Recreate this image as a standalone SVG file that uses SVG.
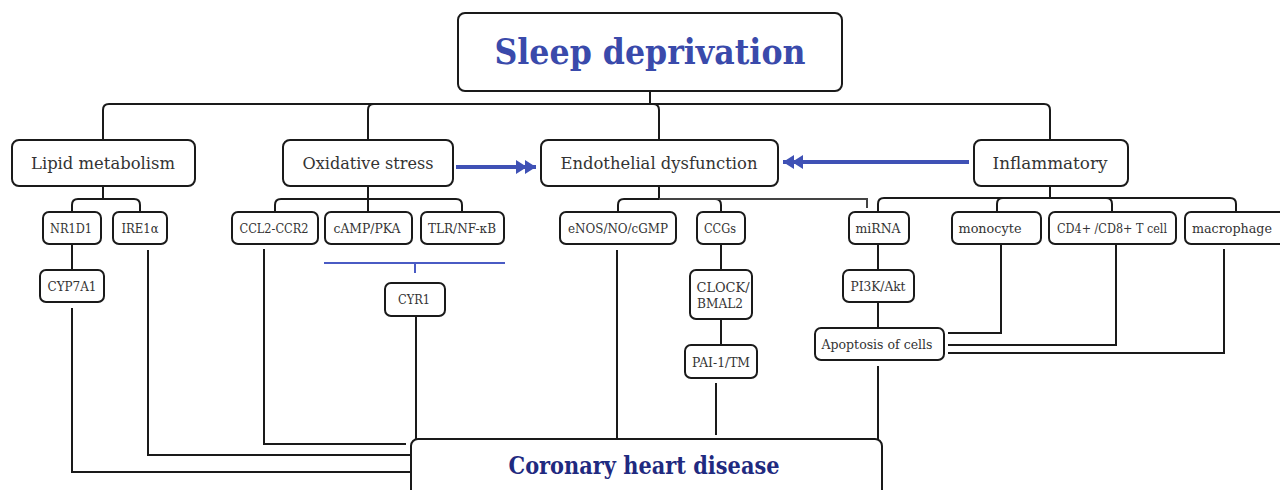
<svg xmlns="http://www.w3.org/2000/svg" width="1280" height="490" viewBox="0 0 1280 490">
<style>
.box{fill:#fff;stroke:#1a1a1a;stroke-width:2}
.ln{fill:none;stroke:#1a1a1a;stroke-width:2}
.t{font-family:"DejaVu Serif","Liberation Serif",serif;fill:#333;text-anchor:middle}
.c{font-size:17.5px}
.s{font-size:13.5px}
.title{font-family:"DejaVu Serif","Liberation Serif",serif;font-weight:bold;text-anchor:middle}
.blue{fill:none;stroke:#3f51b5;stroke-width:4}
</style>
<defs>
<marker id="dbl" viewBox="0 0 20 14" refX="20" refY="7" markerWidth="20" markerHeight="14" markerUnits="userSpaceOnUse" orient="auto">
<path d="M0,0 L11,7 L0,14 Z M9,0 L20,7 L9,14 Z" fill="#3f51b5"/>
</marker>
</defs>
<g id="connectors">
<path class="ln" d="M650,91 V104 H109 Q103,104 103,110 V140"/>
<path class="ln" d="M650,104 H374 Q368,104 368,110 V140"/>
<path class="ln" d="M650,104 H653 Q659,104 659,110 V140"/>
<path class="ln" d="M650,104 H1044 Q1050,104 1050,110 V140"/>
<path class="ln" d="M103,186 V199 H78 Q72,199 72,205 V212"/>
<path class="ln" d="M103,199 H134 Q140,199 140,205 V212"/>
<path class="ln" d="M72,244 V270"/>
<path class="ln" d="M368,186 V199 H281 Q275,199 275,205 V212"/>
<path class="ln" d="M368,199 V212"/>
<path class="ln" d="M368,199 H456 Q462,199 462,205 V212"/>
<path class="ln" d="M659,186 V199 H624 Q618,199 618,205 V212"/>
<path class="ln" d="M659,199 H715 Q721,199 721,205 V212"/>
<path d="M659,199 H867 V208" fill="none" stroke="#444" stroke-width="2"/>
<path class="ln" d="M721,244 V270"/>
<path class="ln" d="M721,319 V345"/>
<path class="ln" d="M1050,186 V198 H884 Q878,198 878,204 V212"/>
<path class="ln" d="M1050,198 H1003 Q997,198 997,204 V212"/>
<path class="ln" d="M1050,198 H1106 Q1112,198 1112,204 V212"/>
<path class="ln" d="M1050,198 H1230 Q1236,198 1236,204 V212"/>
<path class="ln" d="M878,244 V270"/>
<path class="ln" d="M878,302 V328"/>
<path class="ln" d="M1001,244 V333 H948"/>
<path class="ln" d="M1116,244 V345 H948"/>
<path class="ln" d="M1224,249 V353 H948"/>
<path class="ln" d="M72,308 V472 H411"/>
<path class="ln" d="M148,250 V455 H411"/>
<path class="ln" d="M264,249 V444 H406"/>
<path class="ln" d="M416,316 V439"/>
<path class="ln" d="M617,250 V439"/>
<path class="ln" d="M716,383 V435"/>
<path class="ln" d="M878,366 V439"/>
<path d="M324,263 H505 M415,263 V273" fill="none" stroke="#4a5bc4" stroke-width="2"/>
<path class="blue" d="M456,167 H536" marker-end="url(#dbl)"/>
<path class="blue" d="M969,162 H783" marker-end="url(#dbl)"/>
</g>
<g id="sleep">
<rect class="box" x="458" y="13" width="384" height="78" rx="7"/>
<text class="title" x="650" y="64" font-size="36" fill="#3a4aab" textLength="311" lengthAdjust="spacingAndGlyphs">Sleep deprivation</text>
</g>
<g id="lipid">
<rect class="box" x="12" y="140" width="183" height="46" rx="7"/>
<text class="t c" x="103" y="169" textLength="144" lengthAdjust="spacingAndGlyphs">Lipid metabolism</text>
</g>
<g id="oxidative">
<rect class="box" x="283" y="140" width="170" height="46" rx="7"/>
<text class="t c" x="368" y="169" textLength="131" lengthAdjust="spacingAndGlyphs">Oxidative stress</text>
</g>
<g id="endothelial">
<rect class="box" x="541" y="140" width="237" height="46" rx="7"/>
<text class="t c" x="659" y="169" textLength="197" lengthAdjust="spacingAndGlyphs">Endothelial dysfunction</text>
</g>
<g id="inflammatory">
<rect class="box" x="974" y="140" width="154" height="46" rx="7"/>
<text class="t c" x="1050" y="169" textLength="115" lengthAdjust="spacingAndGlyphs">Inflammatory</text>
</g>
<g id="nr1d1">
<rect class="box" x="43" y="212" width="58" height="32" rx="6"/>
<text class="t s" x="71" y="233" textLength="42" lengthAdjust="spacingAndGlyphs">NR1D1</text>
</g>
<g id="ire1a">
<rect class="box" x="113" y="212" width="54" height="32" rx="6"/>
<text class="t s" x="140" y="233" textLength="37" lengthAdjust="spacingAndGlyphs">IRE1α</text>
</g>
<g id="ccl2">
<rect class="box" x="232" y="212" width="86" height="32" rx="6"/>
<text class="t s" x="274" y="233" textLength="69" lengthAdjust="spacingAndGlyphs">CCL2-CCR2</text>
</g>
<g id="camp">
<rect class="box" x="325" y="212" width="87" height="32" rx="6"/>
<text class="t s" x="367" y="233" textLength="67" lengthAdjust="spacingAndGlyphs">cAMP/PKA</text>
</g>
<g id="tlr">
<rect class="box" x="421" y="212" width="83" height="32" rx="6"/>
<text class="t s" x="462" y="233" textLength="68" lengthAdjust="spacingAndGlyphs">TLR/NF-κB</text>
</g>
<g id="enos">
<rect class="box" x="560" y="212" width="116" height="32" rx="6"/>
<text class="t s" x="618" y="233" textLength="100" lengthAdjust="spacingAndGlyphs">eNOS/NO/cGMP</text>
</g>
<g id="ccgs">
<rect class="box" x="697" y="212" width="48" height="32" rx="6"/>
<text class="t s" x="720" y="233" textLength="32" lengthAdjust="spacingAndGlyphs">CCGs</text>
</g>
<g id="mirna">
<rect class="box" x="849" y="212" width="60" height="32" rx="6"/>
<text class="t s" x="878" y="233" textLength="45" lengthAdjust="spacingAndGlyphs">miRNA</text>
</g>
<g id="monocyte">
<rect class="box" x="952" y="212" width="89" height="32" rx="6"/>
<text class="t s" x="990" y="233" textLength="63" lengthAdjust="spacingAndGlyphs">monocyte</text>
</g>
<g id="tcell">
<rect class="box" x="1049" y="212" width="127" height="32" rx="6"/>
<text class="t s" x="1112" y="233" textLength="110" lengthAdjust="spacingAndGlyphs">CD4+ /CD8+ T cell</text>
</g>
<g id="macrophage">
<rect class="box" x="1185" y="212" width="100" height="32" rx="6"/>
<text class="t s" x="1232" y="233" textLength="80" lengthAdjust="spacingAndGlyphs">macrophage</text>
</g>
<g id="cyp7a1">
<rect class="box" x="40" y="270" width="64" height="32" rx="6"/>
<text class="t s" x="72" y="291" textLength="49" lengthAdjust="spacingAndGlyphs">CYP7A1</text>
</g>
<g id="cyr1">
<rect class="box" x="385" y="283" width="60" height="33" rx="6"/>
<text class="t s" x="414" y="304" textLength="32" lengthAdjust="spacingAndGlyphs">CYR1</text>
</g>
<g id="clock">
<rect class="box" x="690" y="270" width="62" height="49" rx="6"/>
<text class="t s" x="723" y="292" textLength="53" lengthAdjust="spacingAndGlyphs">CLOCK/</text>
<text class="t s" x="720" y="308" textLength="46" lengthAdjust="spacingAndGlyphs">BMAL2</text>
</g>
<g id="pai">
<rect class="box" x="685" y="345" width="72" height="33" rx="6"/>
<text class="t s" x="721" y="367" textLength="58" lengthAdjust="spacingAndGlyphs">PAI-1/TM</text>
</g>
<g id="pi3k">
<rect class="box" x="843" y="270" width="71" height="32" rx="6"/>
<text class="t s" x="878" y="291" textLength="55" lengthAdjust="spacingAndGlyphs">PI3K/Akt</text>
</g>
<g id="apoptosis">
<rect class="box" x="815" y="328" width="129" height="32" rx="6"/>
<text class="t s" x="877" y="349" textLength="111" lengthAdjust="spacingAndGlyphs">Apoptosis of cells</text>
</g>
<g id="chd">
<rect class="box" x="411" y="439" width="471" height="62" rx="7"/>
<text class="title" x="644" y="474" font-size="24" fill="#1f2a80" textLength="271" lengthAdjust="spacingAndGlyphs">Coronary heart disease</text>
</g>
</svg>
